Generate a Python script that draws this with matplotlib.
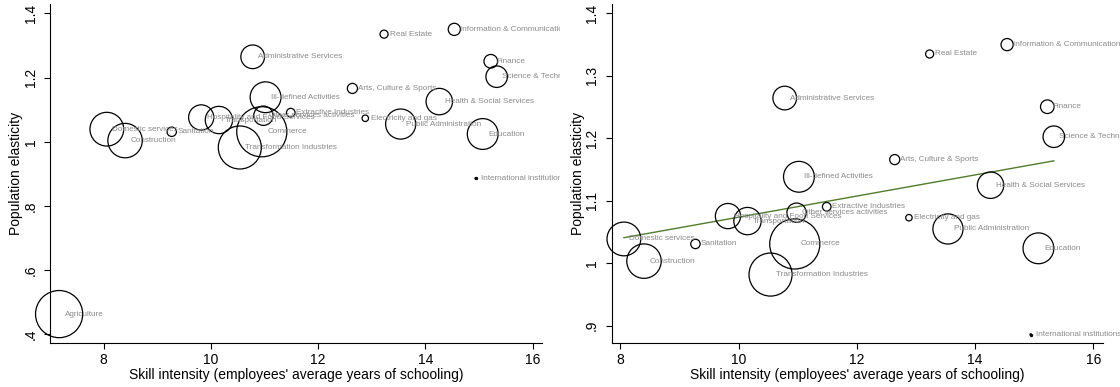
import matplotlib
matplotlib.use("Agg")
import matplotlib.pyplot as plt
from matplotlib.transforms import Bbox

plt.rcParams["font.family"] = ["Liberation Sans", "DejaVu Sans"]

# sectors (right panel excludes Agriculture)
sectors = ["Agriculture", "Domestic services", "Construction", "Sanitation",
           "Hospitality and Food Services", "Transportation", "Transformation Industries",
           "Administrative Services", "Ill-defined Activities", "Other services activities",
           "Commerce", "Extractive Industries", "Arts, Culture & Sports", "Electricity and gas",
           "Real Estate", "Public Administration", "Health & Social Services",
           "Information & Communication", "Education", "Finance", "Science & Technology",
           "International institutions"]
schooling = [7.17, 8.06, 8.40, 9.27, 9.82, 10.15, 10.54, 10.78, 11.02, 10.98, 10.95,
             11.49, 12.64, 12.88, 13.23, 13.54, 14.26, 14.54, 15.07, 15.22, 15.33, 14.94]
elasticity = [0.463, 1.039, 1.0035, 1.031, 1.0756, 1.0676, 0.982, 1.2645, 1.1385, 1.081,
              1.031, 1.0905, 1.166, 1.073, 1.335, 1.055, 1.125, 1.350, 1.024, 1.2506,
              1.2026, 0.886]
# employment weight (marker area)
weight = [480, 246, 256, 19, 137, 161, 400, 121, 205, 81, 543, 16, 22, 9, 14, 196, 151,
          32, 205, 40, 100, 0.5]

fit_x = [8.06, 15.33]
fit_y = [1.041, 1.164]

W, H = 1120, 387
fig = plt.figure(figsize=(W / 100, H / 100), dpi=100)


def panel(rect, idx, xlim, ylim, yticks, ytlabels, clip_px, fit=False):
    ax = fig.add_axes(rect)
    xs = [schooling[i] for i in idx]
    ys = [elasticity[i] for i in idx]
    ss = [weight[i] * 2.4 for i in idx]
    ax.scatter(xs, ys, s=ss, facecolors="none", edgecolors="black", linewidths=0.9,
               clip_on=False, zorder=3)
    # tiny filled dot for international institutions
    k = idx.index(len(sectors) - 1)
    ax.plot(xs[k], ys[k], "o", ms=1.4, color="black", zorder=4)
    if fit:
        ax.plot(fit_x, fit_y, color="#4f7d2a", lw=1.0, zorder=2)
    box = Bbox.from_extents(*clip_px)
    for i, x, y in zip(idx, xs, ys):
        t = ax.annotate(sectors[i], (x, y), xytext=(4, 0), textcoords="offset points",
                        ha="left", va="center", fontsize=5.9, color="#8a8a8a",
                        annotation_clip=False, zorder=5)
        t.set_clip_on(True)
        t.set_clip_box(box)
    ax.set_xlim(*xlim)
    ax.set_ylim(*ylim)
    ax.set_xticks([8, 10, 12, 14, 16])
    ax.set_yticks(yticks)
    ax.set_yticklabels(ytlabels, rotation=90, va="center")
    for s in ("top", "right"):
        ax.spines[s].set_visible(False)
    ax.tick_params(direction="out", length=4, width=0.8, labelsize=10)
    ax.tick_params(axis="x", pad=3)
    ax.tick_params(axis="y", pad=5)
    ax.set_xlabel("Skill intensity (employees' average years of schooling)", fontsize=10,
                  labelpad=1)
    ax.set_ylabel("Population elasticity", fontsize=10, labelpad=0)
    return ax


all_idx = list(range(len(sectors)))
bot, hgt = 43.7 / H, 339.3 / H
panel([50 / W, bot, 491.7 / W, hgt], all_idx, (7.0, 16.17), (0.372, 1.429),
      [0.4, 0.6, 0.8, 1.0, 1.2, 1.4], [".4", ".6", ".8", "1", "1.2", "1.4"],
      (0, 0, 560, H))
panel([611.7 / W, bot, 491.2 / W, hgt], all_idx[1:], (7.854, 16.16), (0.872, 1.415),
      [0.9, 1.0, 1.1, 1.2, 1.3, 1.4], [".9", "1", "1.1", "1.2", "1.3", "1.4"],
      (560, 0, W, H), fit=True)

fig.savefig("out.png", dpi=100)
